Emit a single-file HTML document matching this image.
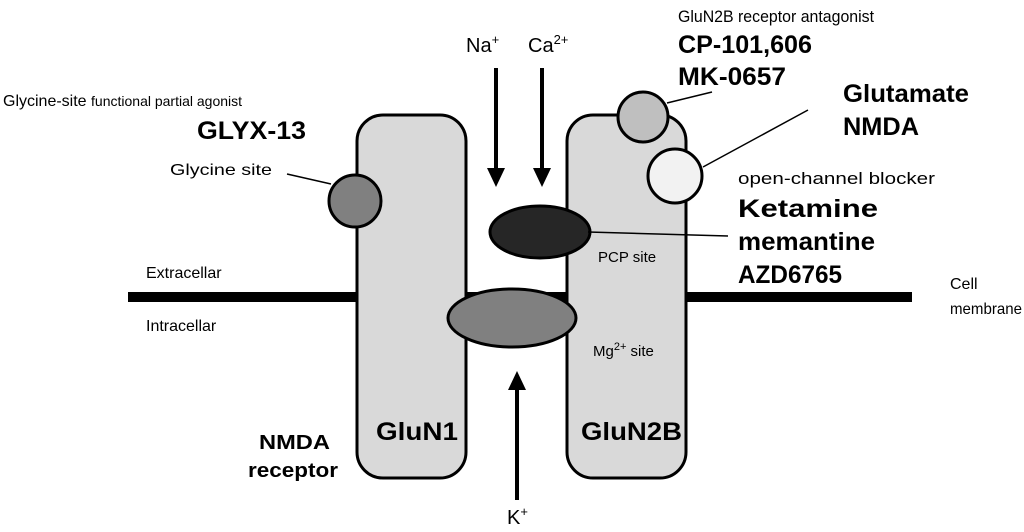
<!DOCTYPE html>
<html><head><style>
body{margin:0;background:#fff}
svg text{font-family:"Liberation Sans",sans-serif;fill:#000}
</style></head><body>
<svg width="1024" height="527" viewBox="0 0 1024 527" xmlns="http://www.w3.org/2000/svg">
<line x1="128" y1="297" x2="912" y2="297" stroke="#000" stroke-width="10"/>
<rect x="357" y="115" width="109" height="363" rx="26" fill="#d9d9d9" stroke="#000" stroke-width="3"/>
<rect x="567" y="115" width="119" height="363" rx="26" fill="#d9d9d9" stroke="#000" stroke-width="3"/>
<circle cx="355" cy="201" r="26" fill="#808080" stroke="#000" stroke-width="3"/>
<circle cx="643" cy="117" r="25" fill="#bfbfbf" stroke="#000" stroke-width="3"/>
<circle cx="675" cy="176" r="27" fill="#f2f2f2" stroke="#000" stroke-width="3"/>
<ellipse cx="540" cy="232" rx="50" ry="26" fill="#262626" stroke="#000" stroke-width="3"/>
<ellipse cx="512" cy="318" rx="64" ry="29" fill="#808080" stroke="#000" stroke-width="3"/>
<g stroke="#000" stroke-width="4">
<line x1="496" y1="68" x2="496" y2="172"/><path d="M487,168 L496,187 L505,168 Z" fill="#000" stroke="none"/>
<line x1="542" y1="68" x2="542" y2="172"/><path d="M533,168 L542,187 L551,168 Z" fill="#000" stroke="none"/>
<line x1="517" y1="500" x2="517" y2="386"/><path d="M508,390 L517,371 L526,390 Z" fill="#000" stroke="none"/>
</g>
<g stroke="#000" stroke-width="1.5">
<line x1="287" y1="174" x2="331" y2="184"/>
<line x1="667" y1="103" x2="712" y2="92"/>
<line x1="703" y1="167" x2="808" y2="110"/>
<line x1="588" y1="232" x2="728" y2="236"/>
</g>
<g lengthAdjust="spacingAndGlyphs">
<text x="466" y="52" font-size="20">Na<tspan font-size="13" dy="-8">+</tspan></text>
<text x="528" y="52" font-size="20">Ca<tspan font-size="13" dy="-8">2+</tspan></text>
<text x="507" y="524" font-size="20">K<tspan font-size="13" dy="-8">+</tspan></text>
<text x="678" y="22" font-size="17" textLength="196" lengthAdjust="spacingAndGlyphs">GluN2B receptor antagonist</text>
<text x="678" y="53" font-size="25" font-weight="bold" textLength="134" lengthAdjust="spacingAndGlyphs">CP-101,606</text>
<text x="678" y="85" font-size="25" font-weight="bold" textLength="108" lengthAdjust="spacingAndGlyphs">MK-0657</text>
<text x="843" y="102" font-size="25" font-weight="bold" textLength="126" lengthAdjust="spacingAndGlyphs">Glutamate</text>
<text x="843" y="135" font-size="25" font-weight="bold" textLength="76" lengthAdjust="spacingAndGlyphs">NMDA</text>
<text x="738" y="184" font-size="17" textLength="197" lengthAdjust="spacingAndGlyphs">open-channel blocker</text>
<text x="738" y="217" font-size="25" font-weight="bold" textLength="140" lengthAdjust="spacingAndGlyphs">Ketamine</text>
<text x="738" y="250" font-size="25" font-weight="bold" textLength="137" lengthAdjust="spacingAndGlyphs">memantine</text>
<text x="738" y="283" font-size="25" font-weight="bold" textLength="104" lengthAdjust="spacingAndGlyphs">AZD6765</text>
<text x="950" y="289" font-size="16">Cell</text>
<text x="950" y="314" font-size="16" textLength="72" lengthAdjust="spacingAndGlyphs">membrane</text>
<text x="3" y="106" font-size="16">Glycine-site <tspan font-size="14">functional partial agonist</tspan></text>
<text x="197" y="139" font-size="25" font-weight="bold" textLength="109" lengthAdjust="spacingAndGlyphs">GLYX-13</text>
<text x="170" y="175" font-size="16" textLength="102" lengthAdjust="spacingAndGlyphs">Glycine site</text>
<text x="146" y="278" font-size="16">Extracellar</text>
<text x="146" y="331" font-size="16">Intracellar</text>
<text x="598" y="262" font-size="15">PCP site</text>
<text x="593" y="356" font-size="15">Mg<tspan font-size="11" dy="-6">2+</tspan><tspan dy="6"> site</tspan></text>
<text x="376" y="440" font-size="25" font-weight="bold" textLength="82" lengthAdjust="spacingAndGlyphs">GluN1</text>
<text x="581" y="440" font-size="25" font-weight="bold" textLength="101" lengthAdjust="spacingAndGlyphs">GluN2B</text>
<text x="259" y="449" font-size="20" font-weight="bold" textLength="71" lengthAdjust="spacingAndGlyphs">NMDA</text>
<text x="248" y="477" font-size="20" font-weight="bold" textLength="90" lengthAdjust="spacingAndGlyphs">receptor</text>
</g>
</svg>
</body></html>
